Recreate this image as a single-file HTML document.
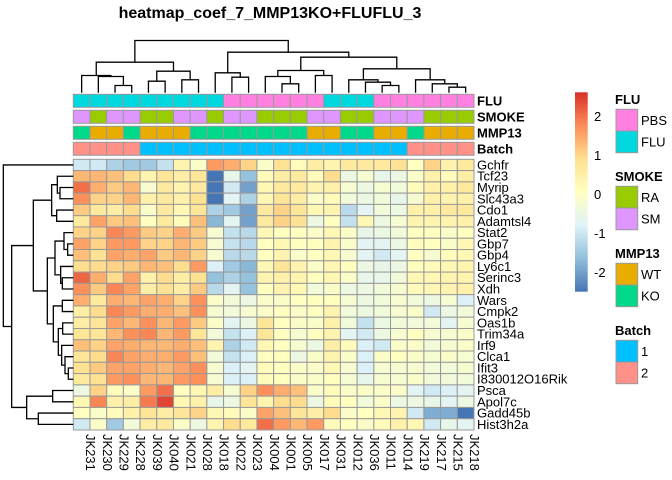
<!DOCTYPE html>
<html><head><meta charset="utf-8"><style>
html,body{margin:0;padding:0;background:#fff;}
svg{display:block;font-family:"Liberation Sans",sans-serif;}
</style></head><body>
<svg id="chart" width="672" height="480" viewBox="0 0 672 480" xmlns="http://www.w3.org/2000/svg">
<text x="270" y="18" font-size="16" font-weight="bold" text-anchor="middle">heatmap_coef_7_MMP13KO+FLUFLU_3</text>
<g id="g"></g>
</svg>
<script>
const samples = ["JK231","JK230","JK229","JK228","JK039","JK040","JK021","JK028","JK018","JK022","JK023","JK004","JK001","JK005","JK017","JK031","JK012","JK036","JK011","JK014","JK219","JK217","JK215","JK218"];
const genes = ["Gchfr","Tcf23","Myrip","Slc43a3","Cdo1","Adamtsl4","Stat2","Gbp7","Gbp4","Ly6c1","Serinc3","Xdh","Wars","Cmpk2","Oas1b","Trim34a","Irf9","Clca1","Ifit3","I830012O16Rik","Psca","Apol7c","Gadd45b","Hist3h2a"];
const fluAnn   = ["FLU","FLU","FLU","FLU","FLU","FLU","FLU","FLU","FLU","PBS","PBS","PBS","PBS","PBS","PBS","FLU","FLU","FLU","PBS","PBS","PBS","PBS","PBS","PBS"];
const smokeAnn = ["SM","RA","SM","SM","RA","RA","SM","SM","RA","SM","SM","RA","RA","RA","SM","SM","RA","RA","SM","SM","SM","RA","RA","RA"];
const mmpAnn   = ["KO","WT","WT","KO","WT","WT","WT","KO","KO","KO","KO","KO","KO","KO","WT","WT","KO","KO","WT","WT","KO","WT","WT","WT"];
const batchAnn = ["2","2","2","2","1","1","1","1","1","1","1","1","1","1","1","1","1","1","1","1","2","2","2","2"];
const values = [
[-0.8,-0.8,-1.1,-1.2,-1.2,-0.9,0.3,-0.1,1.6,1.4,1.0,-0.1, 0.8,0.1,0.5,0.3,0.6,0.6,0.6,0.8,0.0,1.0,0.3,0.6],
[1.3,1.3,1.2,0.9,0.3,0.7,0.5,0.7,-2.4,-0.5,-1.3,0.1, 0.5,0.6,0.1,0.9,-0.4,-0.2,-0.5,-0.4,-0.1,0.4,0.1,0.5],
[2.0,1.4,1.1,1.3,-0.2,0.6,0.3,0.6,-2.1,-0.8,-1.6,0.2, 0.6,0.6,0.3,0.4,-0.2,-0.4,-0.2,-0.3,0.1,0.4,0.4,0.6],
[1.7,1.0,1.0,1.3,0.4,0.6,0.4,0.8,-2.5,-0.6,-1.1,0.2, 0.7,0.5,-0.1,0.1,-0.3,-0.4,-0.3,-0.5,-0.2,0.4,0.3,0.4],
[1.1,0.6,0.5,0.9,-0.1,0.6,0.2,0.7,-1.1,-1.2,-1.6,0.6, 1.0,0.7,0.2,0.3,-1.0,-0.6,-0.3,-0.4,0.4,0.4,0.6,0.6],
[0.6,1.5,1.1,1.2,0.0,0.6,0.1,1.2,-1.4,-0.6,-1.6,0.6, 1.0,0.8,-0.4,0.0,-0.9,0.2,-0.4,-0.2,0.3,0.3,0.3,0.4],
[1.0,1.0,1.8,1.6,1.1,1.0,1.4,1.1,-0.2,-0.9,-1.0,0.2, 0.0,0.0,-0.1,0.2,-0.1,-0.5,-0.4,-0.3,0.0,0.0,-0.1,0.0],
[1.5,1.0,1.6,1.6,1.0,1.0,1.3,1.1,-0.2,-0.9,-1.0,0.0, 0.2,0.0,0.0,0.3,-0.1,-0.6,-0.6,-0.4,0.1,0.0,-0.1,0.2],
[1.2,0.8,1.5,1.4,1.5,1.1,1.3,1.0,-0.2,-1.0,-1.0,0.0, 0.3,-0.1,0.0,0.2,-0.2,-0.6,-0.8,-0.6,0.0,-0.2,0.1,0.2],
[0.9,0.9,1.0,1.1,1.3,1.2,0.9,1.6,-0.7,-1.2,-1.4,0.2, 0.7,0.3,-0.1,0.2,0.0,-0.4,-0.5,-0.4,0.0,0.1,0.2,0.3],
[2.1,1.4,0.9,1.5,0.4,0.9,0.5,0.8,-1.3,-1.1,-1.3,0.3, 0.4,0.3,0.0,0.2,-0.1,-0.5,-0.5,-0.3,0.2,0.2,0.3,0.3],
[1.7,1.1,1.8,1.5,0.5,0.8,0.5,1.1,-1.0,-0.6,-1.3,0.0, 0.3,0.2,-0.3,-0.1,-0.4,-0.4,-0.3,-0.2,0.1,0.2,0.3,0.4],
[1.4,0.6,1.4,1.3,1.5,1.4,1.0,1.7,-0.1,-0.3,-0.4,-0.1, -0.1,0.0,0.0,0.0,-0.2,-0.4,-0.3,-0.2,-0.3,-0.4,-0.2,-0.7],
[0.5,0.9,1.8,1.6,1.4,1.4,1.2,1.7,-0.2,-0.3,-0.2,-0.1, 0.0,-0.1,0.0,0.3,-0.3,-0.4,-0.3,-0.2,-0.1,-0.8,-0.4,-0.3],
[0.5,0.7,1.5,1.3,1.7,1.3,1.6,1.1,-0.1,-0.6,-0.4,0.7, 0.0,-0.1,-0.1,0.4,-0.3,-0.9,-0.4,-0.3,-0.3,-0.3,-0.6,-0.2],
[0.7,0.7,1.3,1.7,1.8,1.3,1.6,0.7,-0.3,-0.9,-0.7,0.7, 0.0,-0.2,0.0,0.3,-0.6,-0.8,-0.4,-0.2,0.0,-0.2,-0.2,-0.1],
[1.2,1.0,1.5,1.4,1.3,1.3,1.4,1.2,0.3,-1.1,-0.8,0.2, 0.0,-0.2,-0.4,0.5,0.1,-0.7,-0.8,-0.1,-0.1,-0.3,-0.2,-0.1],
[0.7,0.9,1.8,1.5,1.4,1.4,1.6,1.2,-0.3,-0.9,-0.7,0.0, 0.0,-0.4,-0.1,0.3,-0.1,-0.7,-0.1,0.0,-0.1,-0.2,-0.1,-0.2],
[0.8,1.1,1.5,1.5,1.4,1.3,1.5,1.7,-0.2,-0.7,-0.6,0.1, 0.0,-0.1,-0.1,0.2,-0.2,-0.7,-0.2,-0.2,-0.2,-0.3,-0.3,-0.2],
[0.6,0.8,1.6,1.7,1.3,1.3,1.6,1.7,-0.2,-0.7,-0.7,0.1, 0.0,-0.1,-0.1,0.0,-0.2,-0.5,-0.2,-0.2,-0.1,-0.3,-0.3,-0.3],
[-0.4,1.0,0.1,-0.1,1.6,2.0,0.0,0.2,0.5,-0.2,1.0,1.7, 1.4,1.2,-0.1,0.1,-0.1,-0.1,-0.1,-0.1,-0.6,-0.8,-0.7,-0.6],
[0.2,1.8,0.4,0.5,1.9,2.4,0.2,0.4,-0.5,-0.4,0.7,0.3, 0.9,0.9,-0.4,0.1,0.0,-0.3,-0.1,-0.4,-0.4,-0.5,-0.6,-0.4],
[0.0,-0.1,0.1,0.4,0.7,0.5,0.7,1.0,0.2,0.1,-0.1,1.5, 1.2,0.7,0.5,0.9,-0.1,0.0,0.2,0.3,-0.8,-1.5,-1.5,-2.3],
[-0.8,-0.1,-1.2,-0.3,0.5,0.6,-0.1,-0.4,0.3,0.9,0.6,2.0, 1.6,1.3,1.6,0.1,0.0,-0.1,0.1,0.4,0.2,-0.8,-0.5,-0.6]
];
const legendTicks = [2,1,0,-1,-2];

const NS="http://www.w3.org/2000/svg";
const G=document.getElementById('g');
function mk(tag,attrs,parent){const e=document.createElementNS(NS,tag);for(const k in attrs)e.setAttribute(k,attrs[k]);(parent||G).appendChild(e);return e;}
const X0=73.3, CW=(474-73.3)/24, Y0=159.3, RH=(430-159.3)/24;
const xAt=i=>X0+i*CW, yAt=j=>Y0+j*RH;
const stops=["#4575B4","#91BFDB","#E0F3F8","#FFFFBF","#FEE090","#FC8D59","#D73027"];
const VNEG=-2.0, VPOS=2.6;
function hex(h){return [1,3,5].map(i=>parseInt(h.substr(i,2),16));}
function color(v){let t=v<0?0.5-0.5*Math.min(1,v/VNEG):0.5+0.5*Math.min(1,v/VPOS);t=Math.max(0,Math.min(1,t))*(stops.length-1);const i=Math.min(stops.length-2,Math.floor(t));const f=t-i;const a=hex(stops[i]),b=hex(stops[i+1]);return "rgb("+a.map((c,k)=>Math.round(c+(b[k]-c)*f)).join(",")+")";}
const annColors={FLU:{PBS:"#FF80E0",FLU:"#00D8E0"},SMOKE:{RA:"#99CC00",SM:"#E096FF"},MMP13:{WT:"#E8AD00",KO:"#00D88A"},Batch:{"1":"#00C0FF","2":"#FF9188"}};

for(let r=0;r<genes.length;r++){for(let c=0;c<samples.length;c++){
  const e=mk('rect',{x:xAt(c),y:yAt(r),width:CW,height:RH,fill:color(values[r][c]),stroke:"#999",'stroke-width':1});
  
  
}}
genes.forEach((g,r)=>{const t=mk('text',{x:477,y:yAt(r)+RH/2+4.5,'font-size':13});t.textContent=g;
  
  });
samples.forEach((s,c)=>{const cx=xAt(c)+CW/2+4.5;const t=mk('text',{x:cx,y:434,'font-size':13,transform:`rotate(90 ${cx} 434)`});t.textContent=s;
  
  });
const tracks=[["FLU",fluAnn,94.3],["SMOKE",smokeAnn,110.3],["MMP13",mmpAnn,126.3],["Batch",batchAnn,142.3]];
tracks.forEach(([name,arr,y])=>{arr.forEach((v,c)=>{const e=mk('rect',{x:xAt(c),y:y,width:CW,height:13,fill:annColors[name][v],stroke:"#999",'stroke-width':1});
  
  });
  const t=mk('text',{x:477,y:y+11,'font-size':13,'font-weight':'bold'});t.textContent=name;
  
  });

const colTree=[[[0,[1,[2,3,135],108],105],[[4,5,122],[6,7,118],92],65],[[8,[9,10,110],97],[[[11,[12,13,130],108],[14,15,105],90],[[16,[17,[18,19,135],125],118],[20,[21,[22,23,140],130],118],85],50],35],0];
const dg=mk('g',{stroke:"#000",'stroke-width':1.3,fill:"none"});


function colNode(n){if(typeof n==="number")return {x:xAt(n)+CW/2,y:92.7};
  const a=colNode(n[0]),b=colNode(n[1]);const y=40.5+n[2]/3;
  mk('path',{d:`M${a.x},${a.y}V${y}H${b.x}V${b.y}`},dg);return {x:(a.x+b.x)/2,y:y};}
colNode(colTree);
const rowTree=[0,[[[[1,[2,3,180],172],[4,5,170],155],[[[6,[7,8,203],192],[9,[10,11,187],182],165],[[12,13,187],[[14,15,188],[16,[17,[18,19,205],195],185],175],160],142],100],[[20,21,158],[22,23,115],80],35],10];
const rg=mk('g',{stroke:"#000",'stroke-width':1.3,fill:"none"});


function rowNode(n){if(typeof n==="number")return {y:yAt(n)+RH/2,x:73.3};
  const a=rowNode(n[0]),b=rowNode(n[1]);const x=n[2]/3;
  mk('path',{d:`M${a.x},${a.y}H${x}V${b.y}H${b.x}`},rg);return {y:(a.y+b.y)/2,x:x};}
rowNode(rowTree);

const defs=mk('defs',{});const lg=mk('linearGradient',{id:'cb',x1:0,y1:1,x2:0,y2:0},defs);
stops.forEach((s,i)=>mk('stop',{offset:i/(stops.length-1),'stop-color':s},lg));
const cb=mk('rect',{x:575,y:92.3,width:12.7,height:199.4,fill:'url(#cb)'});


const vy=v=>194-v*39;
legendTicks.forEach(v=>{const t=mk('text',{x:594,y:vy(v)+5,'font-size':13});t.textContent=String(v);
  
  });
const legends=[["FLU",["PBS","FLU"],100],["SMOKE",["RA","SM"],177],["MMP13",["WT","KO"],254],["Batch",["1","2"],331]];
legends.forEach(([name,keys,ty])=>{const t=mk('text',{x:615,y:ty+4,'font-size':13,'font-weight':'bold'});t.textContent=name;
  
  
  keys.forEach((k,i)=>{const y=ty+9.3+i*21.7;const r=mk('rect',{x:616,y:y,width:21.7,height:21.7,fill:annColors[name][k],stroke:"#999",'stroke-width':1});
    
    
    const l=mk('text',{x:641,y:y+15.5,'font-size':13});l.textContent=k;
    
    });});
</script>
</body></html>
